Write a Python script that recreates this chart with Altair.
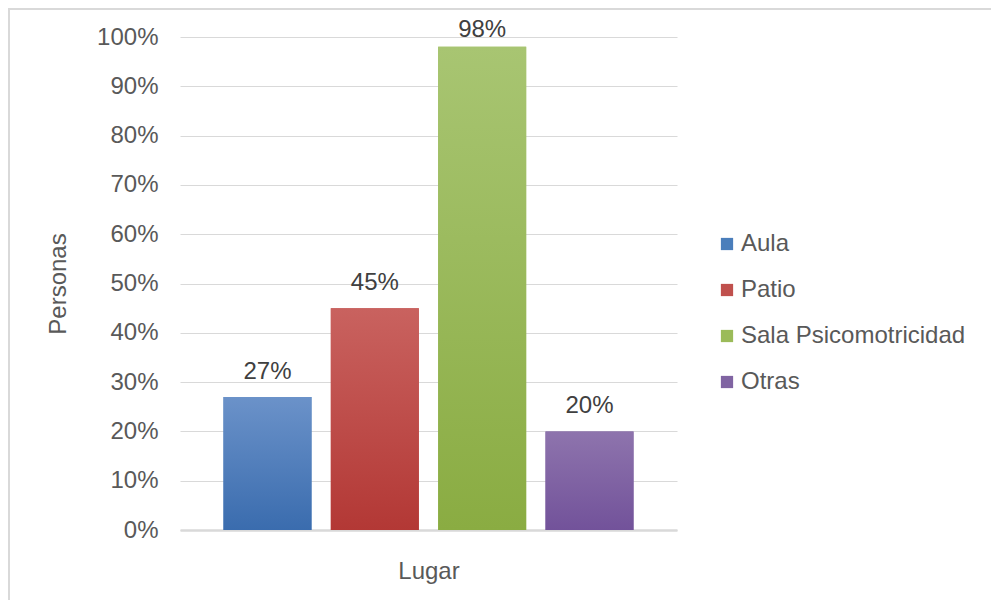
import altair as alt
import pandas as pd

series = ["Aula", "Patio", "Sala Psicomotricidad", "Otras"]
values = [0.27, 0.45, 0.98, 0.20]
base_colors = ["#4a7ebb", "#c0504d", "#9bbb59", "#8064a2"]
top_colors = ["#6b92c9", "#c9625f", "#a8c572", "#8e74ad"]
bottom_colors = ["#3a6cae", "#b33835", "#8aac42", "#72529a"]
group = "Lugar"
y_ticks = [i / 10 for i in range(11)]

df = pd.DataFrame({"serie": series, "valor": values, "grupo": [group] * len(series)})

W, H = 497, 493
FS = 24

x_enc = alt.X(
    "serie:N",
    sort=series,
    scale=alt.Scale(domain=series, paddingInner=0.18, paddingOuter=0.405),
    axis=alt.Axis(
        labels=False, ticks=False, title=group, titleFontSize=FS, titleFontWeight="normal",
        titleColor="#595959", titlePadding=29, domainColor="#d9d9d9", domainWidth=2.5,
    ),
)
y_enc = alt.Y(
    "valor:Q",
    scale=alt.Scale(domain=[0, 1], nice=False),
    axis=alt.Axis(
        values=y_ticks, format=".0%", labelFontSize=FS, labelColor="#595959",
        ticks=False, domain=False, labelPadding=22, gridColor="#d9d9d9", gridWidth=1,
        title="Personas", titleFontSize=FS, titleFontWeight="normal", titleColor="#595959",
        titlePadding=26,
    ),
)

base = alt.Chart(df)

bars = base.mark_bar().encode(
    x=x_enc,
    y=y_enc,
    color=alt.Color(
        "serie:N",
        sort=series,
        scale=alt.Scale(domain=series, range=base_colors),
        legend=alt.Legend(
            title=None, orient="none", legendX=535, legendY=195,
            symbolType="square", symbolSize=150, symbolStrokeWidth=0,
            labelFontSize=FS, labelColor="#595959", rowPadding=22, labelOffset=2,
            labelLimit=400,
        ),
    ),
)

layers = [bars]
for s, top, bot in zip(series, top_colors, bottom_colors):
    layers.append(
        base.transform_filter(alt.datum.serie == s).mark_bar(
            color=alt.Gradient(
                gradient="linear",
                stops=[alt.GradientStop(color=top, offset=0), alt.GradientStop(color=bot, offset=1)],
                x1=0, x2=0, y1=0, y2=1,
            )
        ).encode(x=alt.X("serie:N", sort=series), y="valor:Q")
    )

label_enc = dict(
    x=alt.X("serie:N", sort=series),
    y="valor:Q",
    text=alt.Text("valor:Q", format=".0%"),
)
labels_low = base.transform_filter(alt.datum.valor < 0.9).mark_text(
    dy=-18, fontSize=FS, color="#404040", baseline="alphabetic"
).encode(**label_enc)
labels_high = base.transform_filter(alt.datum.valor >= 0.9).mark_text(
    dy=-10, fontSize=FS, color="#404040", baseline="alphabetic"
).encode(**label_enc)
layers += [labels_low, labels_high]

border_v = alt.Chart(pd.DataFrame({"a": [0]})).mark_rule(color="#d9d9d9", strokeWidth=2).encode(
    x=alt.value(-171), y=alt.value(-29), y2=alt.value(H + 80)
)
border_h = alt.Chart(pd.DataFrame({"a": [0]})).mark_rule(color="#d9d9d9", strokeWidth=2).encode(
    y=alt.value(-28), x=alt.value(-172), x2=alt.value(W + 320)
)
layers += [border_v, border_h]

chart = alt.layer(*layers).properties(
    width=W,
    height=H,
    autosize=alt.AutoSizeParams(type="none"),
    padding={"left": 172, "top": 29, "right": 314, "bottom": 70},
).configure(font="Liberation Sans").configure_view(stroke=None)

chart.save("out.html", embed_options={"renderer": "svg", "actions": False})
